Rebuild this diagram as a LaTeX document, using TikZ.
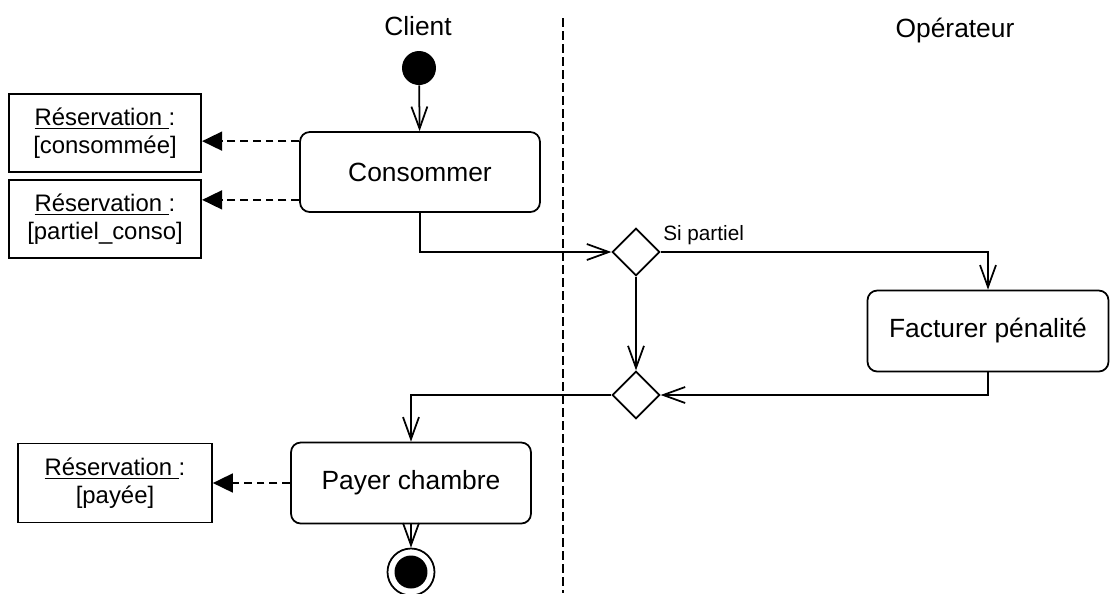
\documentclass[tikz,border=0pt]{standalone}
\usepackage{fontspec}
\setmainfont{Liberation Sans}
\usetikzlibrary{arrows.meta,calc,positioning,shapes.geometric}
\tikzset{action/.style={rounded corners=5.5pt,draw,line width=1pt,minimum width=4.8cm,minimum height=1.6cm,align=center,font=\fontsize{15}{18}\selectfont},objet/.style={draw,line width=1pt,minimum width=3.85cm,minimum height=1.56cm,align=center,font=\fontsize{13.6}{16}\selectfont},decision/.style={diamond,aspect=1,draw,line width=1pt,minimum size=.95cm,inner sep=0pt},flow/.style={-{Straight Barb[length=4.4mm,width=3.2mm]},line width=1pt},dep/.style={-{Triangle[length=4mm,width=3.8mm]},line width=1pt,dash pattern=on 4.5pt off 2.8pt},lane/.style={line width=1pt,dash pattern=on 5pt off 2.4pt},lanetitle/.style={font=\fontsize{15}{18}\selectfont}}

\begin{document}
\begin{tikzpicture}[x=0.02cm,y=-0.02cm]
      \useasboundingbox (0,0) rectangle (1110,593);
      % couloirs
      \node[lanetitle](client) at (418,26){Client};
      \node[lanetitle](oper) at (955,31){Opérateur};
      \coordinate (lanetop) at (563,18);\coordinate (lanebot) at (563,593);
      \draw[lane](lanetop)--(lanebot);
      % activites
      \node[circle,fill,minimum size=.68cm,inner sep=0pt](debut) at (419,68){};
      \node[action](cons) at (420,172){Consommer};
      \node[objet](resa1) at (105,133){\underline{Réservation\ }:\\{[consommée]}};
      \node[objet](resa2) at (105,219){\underline{Réservation\ }:\\{[partiel\_conso]}};
      \node[decision](choix) at (636,252){};
      \node[action,minimum width=4.82cm,minimum height=1.62cm](fact) at (988,331){Facturer pénalité};
      \node[decision](fusion) at (636,395){};
      \node[action,minimum height=1.62cm](payer) at (411,483){Payer chambre};
      \node[objet,minimum width=3.88cm,minimum height=1.58cm](resa3) at (115,483){\underline{Réservation\ }:\\{[payée]}};
      \node[circle,draw,line width=1pt,minimum size=.94cm,inner sep=0pt](fin) at (411,572){};
      \fill (fin.center) circle[radius=.33cm];
      % fleches
      \draw[flow](debut)--(cons);
      \coordinate (c1) at ($(cons.north west)+(0,10)$);
      \coordinate (c2) at ($(cons.south west)+(0,-13)$);
      \draw[dep](c1)--(c1 -| resa1.east);
      \draw[dep](c2)--(c2 -| resa2.east);
      \draw[flow](cons.south)|-(choix.west);
      \draw[flow](choix.east)-|node[pos=0,above right,inner xsep=1pt,inner ysep=3.5pt,font=\fontsize{11.8}{14}\selectfont]{Si partiel}(fact.north);
      \draw[flow](choix.south)--(fusion.north);
      \draw[flow](fact.south)|-(fusion.east);
      \draw[flow](fusion.west)-|(payer.north);
      \draw[dep](payer.west)--(payer.west -| resa3.east);
      \draw[flow](payer.south)--(fin.north);
    \end{tikzpicture}
\end{document}
